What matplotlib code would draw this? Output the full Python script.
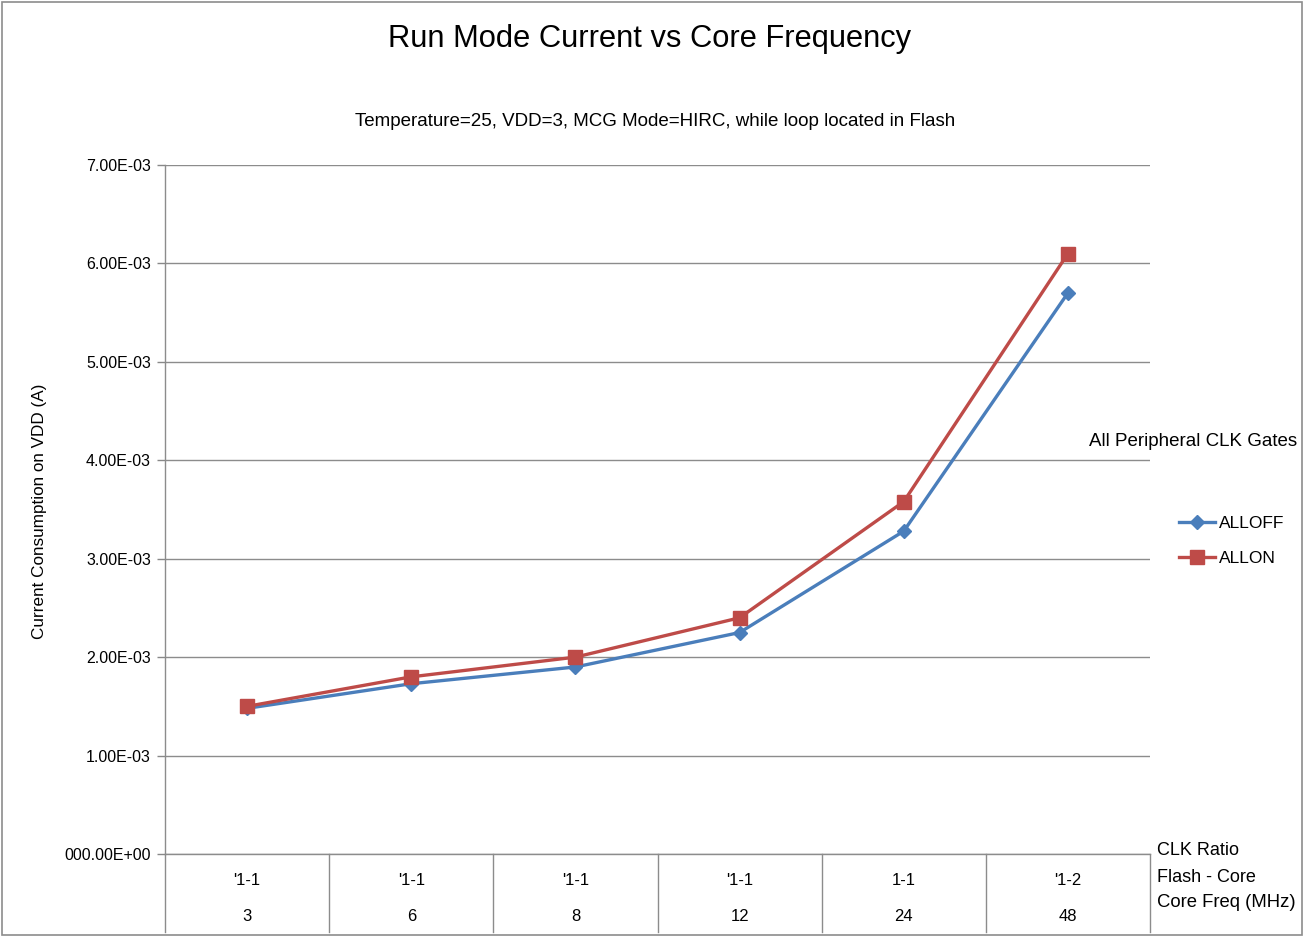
import matplotlib
matplotlib.use("Agg")
import matplotlib.pyplot as plt
from matplotlib.patches import Rectangle
import matplotlib.transforms as mtransforms
from matplotlib import font_manager

fams = {f.name for f in font_manager.fontManager.ttflist}
FONT = "Liberation Sans Narrow" if "Liberation Sans Narrow" in fams else "Liberation Sans"
plt.rcParams['font.family'] = [FONT, 'DejaVu Sans']

# Data
freq_labels = ["3", "6", "8", "12", "24", "48"]
ratio_labels = ["'1-1", "'1-1", "'1-1", "'1-1", "1-1", "'1-2"]
alloff = [1.48e-3, 1.73e-3, 1.90e-3, 2.25e-3, 3.28e-3, 5.70e-3]
allon = [1.50e-3, 1.80e-3, 2.00e-3, 2.40e-3, 3.58e-3, 6.10e-3]
yticks = [0, 1e-3, 2e-3, 3e-3, 4e-3, 5e-3, 6e-3, 7e-3]
ytick_labels = ["000.00E+00", "1.00E-03", "2.00E-03", "3.00E-03", "4.00E-03",
                "5.00E-03", "6.00E-03", "7.00E-03"]

W, H = 1309, 938
fig = plt.figure(figsize=(W / 100, H / 100), dpi=100)

def fx(px):
    return px / W

def fy(py):
    return 1 - py / H

L, R, T, B = 165, 1150, 165, 854
ax = fig.add_axes([fx(L), fy(B), fx(R) - fx(L), fy(T) - fy(B)])

x = list(range(len(freq_labels)))
blue = "#4A7EBB"
red = "#BE4B48"
ax.plot(x, alloff, color=blue, lw=2.4, marker="D", ms=7.5, label="ALLOFF", zorder=3)
ax.plot(x, allon, color=red, lw=2.4, marker="s", ms=10, label="ALLON", zorder=4)

ax.set_xlim(-0.5, len(x) - 0.5)
ax.set_ylim(0, 7e-3)
ax.set_yticks(yticks)
ax.set_yticklabels(ytick_labels, fontsize=11.5)
ax.set_xticks([])
ax.tick_params(axis="y", length=6, color="#888888", width=1, pad=4)
ax.yaxis.grid(True, color="#8C8C8C", lw=1)
ax.set_axisbelow(True)
for s in ["top", "right"]:
    ax.spines[s].set_visible(False)
for s in ["left", "bottom"]:
    ax.spines[s].set_color("#8C8C8C")
    ax.spines[s].set_linewidth(1)

# category separators below axis
trans = mtransforms.blended_transform_factory(ax.transData, ax.transAxes)
ybot = (B - 932) / (B - T)
for b in [i - 0.5 for i in range(len(x) + 1)]:
    ax.plot([b, b], [0, ybot], transform=trans, color="#8C8C8C", lw=1, clip_on=False)

y1 = (B - 880) / (B - T)
y2 = (B - 916) / (B - T)
for i in x:
    ax.text(i, y1, ratio_labels[i], transform=trans, ha="center", va="center", fontsize=12)
    ax.text(i, y2, freq_labels[i], transform=trans, ha="center", va="center", fontsize=12)

fig.text(fx(1157), fy(850), "CLK Ratio", ha="left", va="center", fontsize=13)
fig.text(fx(1157), fy(877), "Flash - Core", ha="left", va="center", fontsize=13)
fig.text(fx(1157), fy(902), "Core Freq (MHz)", ha="left", va="center", fontsize=13.3)

fig.text(fx(650), fy(39), "Run Mode Current vs Core Frequency", ha="center", va="center", fontsize=22.2)
fig.text(fx(655), fy(121), "Temperature=25, VDD=3, MCG Mode=HIRC, while loop located in Flash",
         ha="center", va="center", fontsize=13.5)
fig.text(fx(40), fy(511), "Current Consumption on VDD (A)", rotation=90, ha="center", va="center",
         fontsize=12.3)

fig.text(fx(1193), fy(441), "All Peripheral CLK Gates", ha="center", va="center", fontsize=13.5)
leg = fig.legend(loc="center left", bbox_to_anchor=(fx(1163), fy(541)), frameon=False,
                 fontsize=12.5, handlelength=2.1, handletextpad=0.2, labelspacing=1.1)

fig.patches.append(Rectangle((fx(2), fy(935)), fx(1302) - fx(2), fy(2) - fy(935),
                             transform=fig.transFigure, fill=False, edgecolor="#8C8C8C", lw=1.2))

fig.savefig("out.png", dpi=100)
